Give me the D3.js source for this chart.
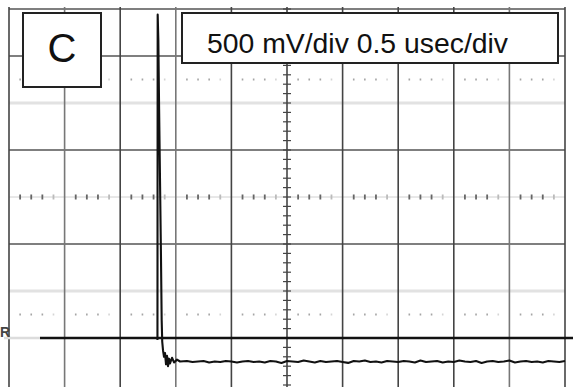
<!DOCTYPE html>
<html>
<head>
<meta charset="utf-8">
<script src="https://cdn.jsdelivr.net/npm/d3@7"></script>
<style>
html,body{margin:0;padding:0;background:#fff;}
svg{display:block;}
</style>
</head>
<body>
<svg id="chart" width="573" height="387"></svg>
<script>
// ---- data (time in microseconds, voltage in volts) ----
const channelLabel = "C";
const scaleLabel = "500 mV/div 0.5 usec/div";
const refMarker = "R";
const refLevel = -1.5;

// pulse edge and ringing
const pulseTime = [1.335,1.337,1.343,1.350,1.358,1.366,1.373,1.378,1.385,1.394,1.403,1.412,1.421,1.430,1.439,1.448,1.466,1.484,1.511,1.538];
const pulseVolt = [-1.52,1.94,1.67,0.93,0.18,-0.56,-1.31,-1.54,-1.63,-1.70,-1.66,-1.78,-1.69,-1.80,-1.72,-1.77,-1.71,-1.76,-1.73,-1.75];

// settled tail
const tailTime = [1.60,1.65,1.70,1.75,1.80,1.85,1.90,1.95,2.00,2.05,2.10,2.15,2.20,2.25,2.30,2.35,2.40,2.45,2.50,2.55,
  2.60,2.65,2.70,2.75,2.80,2.85,2.90,2.95,3.00,3.05,3.10,3.15,3.20,3.25,3.30,3.35,3.40,3.45,3.50,3.55,
  3.60,3.65,3.70,3.75,3.80,3.85,3.90,3.95,4.00,4.05,4.10,4.15,4.20,4.25,4.30,4.35,4.40,4.45,4.50,4.55,
  4.60,4.65,4.70,4.75,4.80,4.85,4.90,4.95,5.00];
const tailVolt = [-1.745,-1.755,-1.75,-1.745,-1.76,-1.75,-1.755,-1.745,-1.75,-1.76,
  -1.75,-1.745,-1.755,-1.75,-1.76,-1.745,-1.75,-1.765,-1.745,-1.75,
  -1.755,-1.74,-1.75,-1.76,-1.745,-1.755,-1.75,-1.745,-1.755,-1.765,
  -1.745,-1.75,-1.74,-1.755,-1.75,-1.76,-1.745,-1.75,-1.755,-1.745,
  -1.75,-1.76,-1.74,-1.755,-1.75,-1.745,-1.76,-1.75,-1.755,-1.74,
  -1.75,-1.755,-1.745,-1.765,-1.75,-1.745,-1.755,-1.75,-1.74,-1.76,
  -1.75,-1.745,-1.755,-1.75,-1.76,-1.745,-1.75,-1.755,-1.745];

// ---- drawing ----
const svg = d3.select("#chart");
const x = d3.scaleLinear().domain([0, 5]).range([9, 565]);
const y = d3.scaleLinear().domain([-2, 2]).range([385, 9]);
const divT = 0.5, divV = 0.5;

const grid = svg.append("g");
const xDivs = d3.range(0, 5 + 1e-9, divT);

// light horizontal bands at +/-2 div
[-1.0, 1.0].forEach(v => {
  grid.append("line").attr("x1", x(0)).attr("x2", x(5)).attr("y1", y(v)).attr("y2", y(v))
    .attr("stroke", "#e2e2e2").attr("stroke-width", 3);
});
// faint centre line
grid.append("line").attr("x1", x(0)).attr("x2", x(5)).attr("y1", y(0)).attr("y2", y(0))
  .attr("stroke", "#d0d0d0").attr("stroke-width", 1);

// solid horizontal lines
[-0.5, 0.5, 1.5, 2].forEach(v => {
  grid.append("line").attr("x1", x(0)).attr("x2", x(5)).attr("y1", y(v)).attr("y2", y(v))
    .attr("stroke", "#555").attr("stroke-width", 1.4);
});

// dotted rows (at +/-2.5 div and centre)
[1.25, -1.25].forEach(v => {
  xDivs.slice(0, -1).forEach(t0 => {
    [1,2,3,4].forEach(k => {
      const t = t0 + k * divT / 5;
      grid.append("rect").attr("x", x(t) - 0.8).attr("y", y(v) - 1).attr("width", 1.6).attr("height", 2)
        .attr("fill", k === 4 ? "#d5d5d5" : "#a5a5a5");
    });
  });
});
xDivs.slice(0, -1).forEach(t0 => {
  [1,2,3,4].forEach(k => {
    const t = t0 + k * divT / 5;
    grid.append("rect").attr("x", x(t) - 0.9).attr("y", y(0) - 2.5).attr("width", 1.8).attr("height", 5)
      .attr("fill", k === 4 ? "#bbb" : "#666");
  });
});

// vertical lines
xDivs.forEach((t, i) => {
  const light = (i === 1 || i === 3 || i === 9);
  grid.append("line").attr("x1", x(t)).attr("x2", x(t)).attr("y1", 7).attr("y2", 387)
    .attr("stroke", light ? "#777" : "#444").attr("stroke-width", 1.6);
});

// centre axis minor ticks
d3.range(-2, 2 + 1e-9, divV / 5).forEach(v => {
  svg.append("line").attr("x1", x(2.5) - 4).attr("x2", x(2.5) + 4).attr("y1", y(v)).attr("y2", y(v))
    .attr("stroke", "#444").attr("stroke-width", 1.2);
});

// reference level line and marker
svg.append("line").attr("x1", 4).attr("x2", 40).attr("y1", y(refLevel)).attr("y2", y(refLevel))
  .attr("stroke", "#dcdcdc").attr("stroke-width", 2.5);
svg.append("line").attr("x1", 40).attr("x2", 573).attr("y1", y(refLevel)).attr("y2", y(refLevel))
  .attr("stroke", "#111").attr("stroke-width", 2.4);
svg.append("text").attr("x", 0).attr("y", y(refLevel) - 1).text(refMarker)
  .attr("font-family", "Liberation Sans, Arial, sans-serif").attr("font-size", 14)
  .attr("font-weight", "bold").attr("fill", "#444");

// trace
const line = d3.line().x(d => x(d[0])).y(d => y(d[1]));
const pulse = pulseTime.map((t, i) => [t, pulseVolt[i]]);
const tail = tailTime.map((t, i) => [t, tailVolt[i]]);
svg.append("path").datum(pulse.concat(tail)).attr("d", line)
  .attr("fill", "none").attr("stroke", "#111").attr("stroke-width", 2.1).attr("stroke-linejoin", "round");

// label boxes
svg.append("rect").attr("x", 23).attr("y", 13).attr("width", 78).attr("height", 74)
  .attr("fill", "#fff").attr("stroke", "#222").attr("stroke-width", 2);
svg.append("text").attr("x", 62).attr("y", 62).attr("text-anchor", "middle").text(channelLabel)
  .attr("font-family", "Liberation Sans, Arial, sans-serif").attr("font-size", 40).attr("fill", "#111");

svg.append("rect").attr("x", 182).attr("y", 13).attr("width", 376).attr("height", 50)
  .attr("fill", "#fff").attr("stroke", "#222").attr("stroke-width", 2);
svg.append("text").attr("x", 207).attr("y", 53).text(scaleLabel)
  .attr("font-family", "Liberation Sans, Arial, sans-serif").attr("font-size", 28.5).attr("fill", "#111")
  .attr("textLength", 301).attr("lengthAdjust", "spacingAndGlyphs");
</script>
</body>
</html>
